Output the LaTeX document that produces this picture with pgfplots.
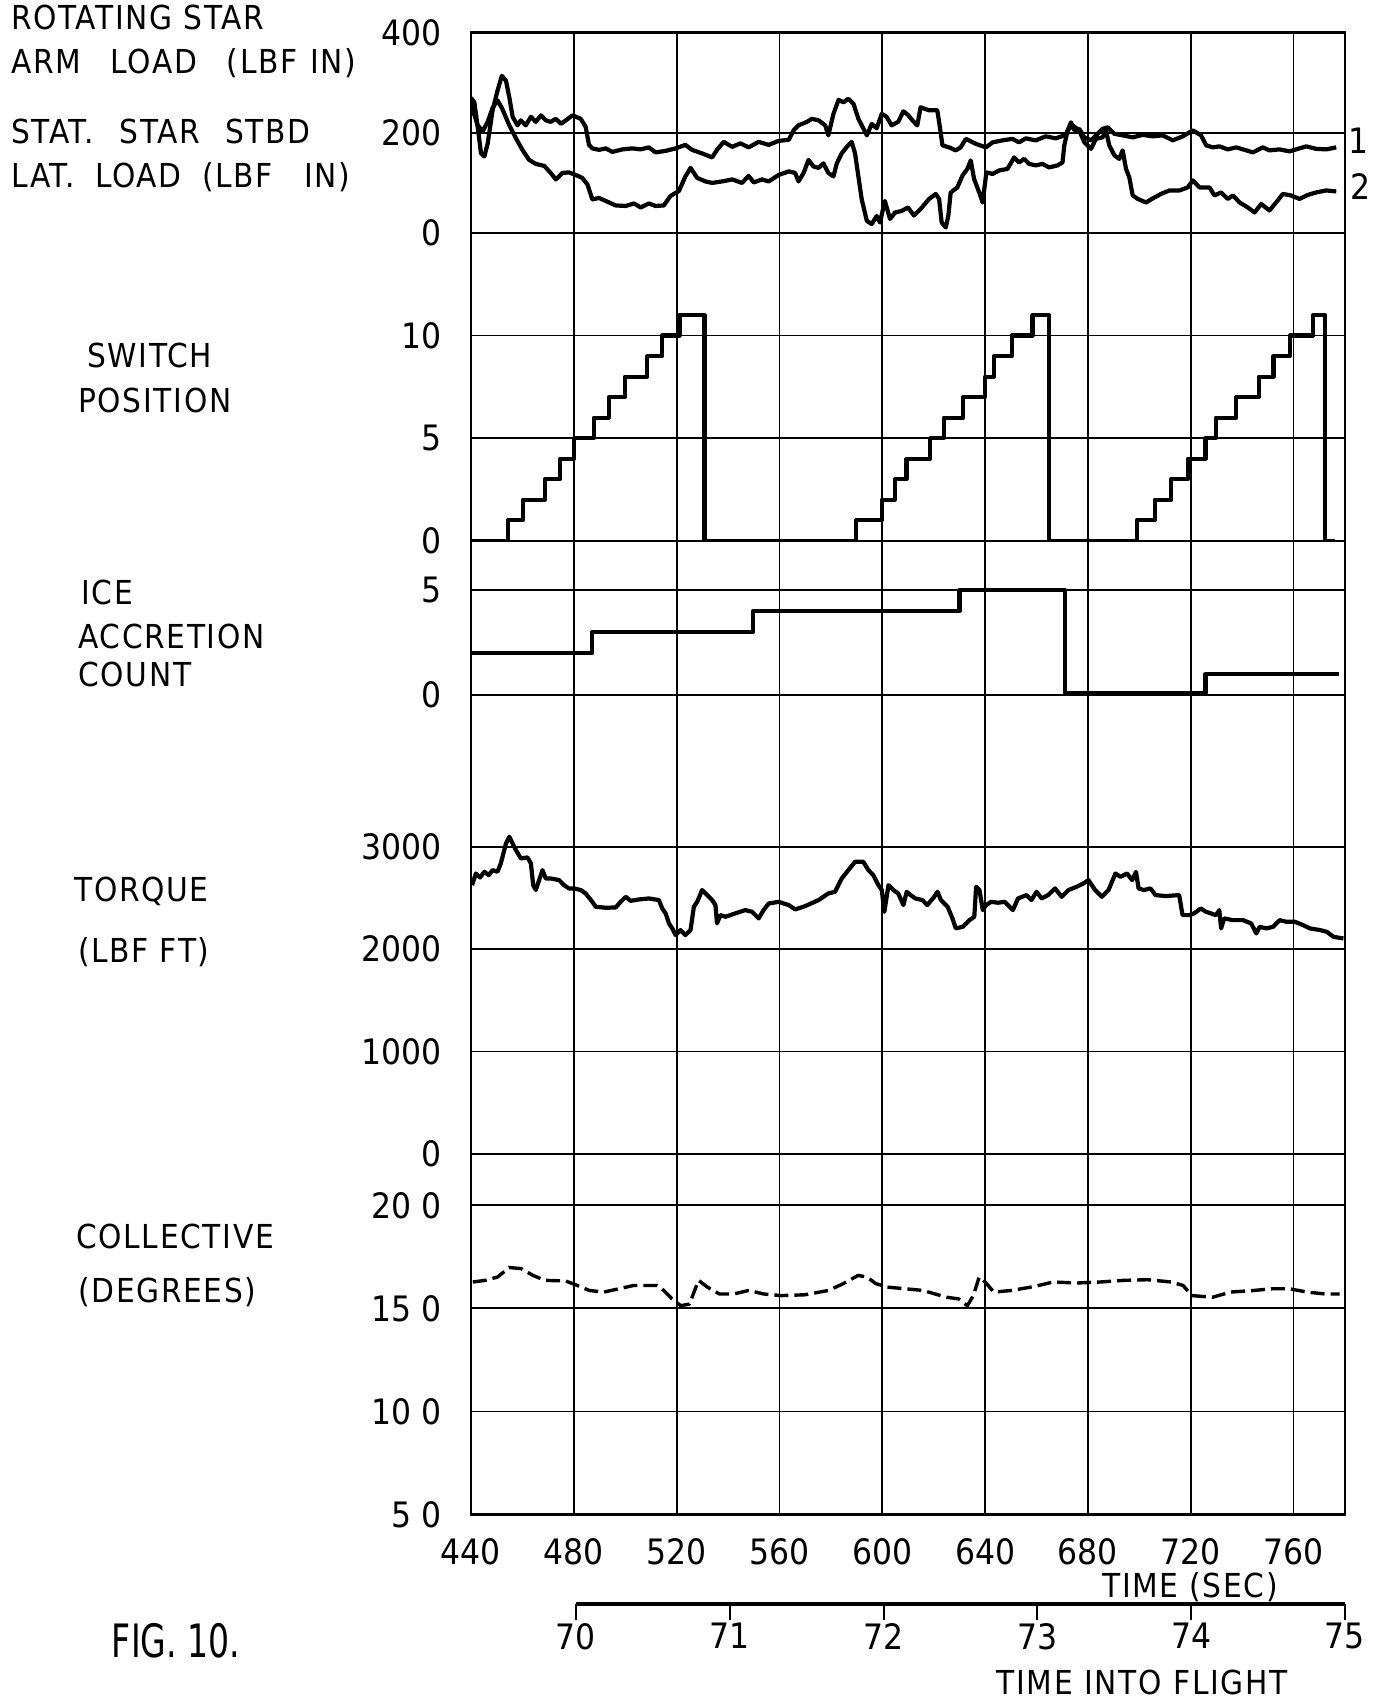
\documentclass[border=0pt]{standalone}
\usepackage{fontspec}
\setmainfont{DejaVu Sans Condensed}
\newfontfamily\labfont[LetterSpace=5]{DejaVu Sans Condensed}
\usepackage{pgfplots}
\pgfplotsset{compat=1.18}
\newcommand\lab{\labfont\fontsize{16.5}{19}\selectfont}
\newcommand\tk{\fontsize{17.5}{20}\selectfont}
\newcommand\gap{\hspace{0.35em}}
\pgfplotsset{panel/.style={scale only axis, width=437pt, xmin=440, xmax=780,
  anchor=north west, axis line style={draw=none},
  xtick={480,520,...,760}, xticklabels={}, major tick length=0pt,
  xmajorgrids, ymajorgrids, grid style={black, line width=0.9pt},
  yticklabel style={font=\tk, anchor=east, inner sep=0pt, xshift=-14.5pt}},
  trace/.style={black, line width=2.1pt, line join=round, mark=none}}
\begin{document}
\begin{tikzpicture}
\path[use as bounding box] (0pt,0pt) rectangle (689pt,-849.5pt);
% Panel 1: loads
\begin{axis}[panel, at={(235.5pt,-16.35pt)}, height=100.15pt, ymin=0, ymax=400,
  ytick={0,200,400}, yticklabels={0,200,400}]
\addplot[trace] coordinates {(440,270)(441.3,261)(442.6,212)(443.9,159)(445.2,153)(446.5,179)(448.4,245)(450.3,284)(452,314)(453.6,304)(454.9,271)(456.2,232)(458.1,215)(459.4,225)(461.3,215)(463.3,232)(465.2,222)(467.2,235)(469.1,225)(471,222)(473,228)(475,218)(476.9,225)(479.5,235)(482.7,228)(484.6,212)(485.9,176)(487.2,169)(489.8,166)(492.4,169)(495,162)(498.9,167)(502.8,169)(506,167)(509.2,171)(511.8,161)(515.7,164)(519.6,169)(523.4,176)(526,166)(529.9,159)(533.8,151)(535.7,166)(538.3,182)(541.6,172)(544.8,179)(548,171)(551.9,182)(555.8,176)(559.7,184)(563.6,186)(565.5,205)(567.4,215)(570.7,222)(572.6,228)(575.2,225)(577.8,215)(579,195)(581,238)(583,266)(584.9,261)(586.8,268)(588.8,258)(590.7,228)(592.6,209)(594,195)(595.9,218)(597.8,209)(599.8,238)(601.7,232)(603.6,215)(606.2,222)(608.2,243)(610,236)(611.7,225)(613.6,215)(614.9,251)(616.5,248)(618.2,245)(621.4,245)(622.7,201)(623.4,175)(626,171)(628.6,165)(630.5,171)(632.5,188)(636.4,178)(640.3,171)(642.9,181)(646.8,185)(650.6,188)(653.2,181)(655.8,189)(659.7,185)(663.6,193)(667.5,189)(671.4,196)(673.4,221)(674.7,205)(676.6,208)(678.6,191)(681.2,185)(683.1,195)(685.7,208)(687.7,211)(690.3,198)(693.5,195)(697.4,191)(701.3,196)(705.2,193)(709.1,195)(713,185)(716.9,193)(720.8,205)(724,195)(726,175)(728.6,171)(731.2,173)(734.4,167)(737.7,171)(741.6,165)(744.2,161)(748,171)(750.6,165)(754.5,167)(758.4,163)(762.3,169)(764.9,173)(768.8,168)(772.7,167)(776.6,171)};
\addplot[trace] coordinates {(440,262)(441.2,238)(442.5,216)(444.5,203)(446.5,222)(448.4,250)(450.3,265)(452,250)(454.9,215)(457.5,189)(460,166)(462.6,146)(465.2,138)(468.5,134)(471,120)(473,107)(475.6,120)(478.1,121)(480.7,116)(483.3,110)(485.3,97)(487.2,67)(489.8,70)(492.4,64)(496.3,55)(500.2,54)(503.4,59)(506,51)(509.2,59)(511.8,54)(515,55)(517.6,74)(520.9,84)(523.4,113)(525.4,130)(528,110)(531.2,103)(533.8,100)(537.7,103)(541.6,107)(545.4,100)(548,114)(550,101)(553.2,107)(555.8,103)(559.7,116)(563.6,123)(566.1,120)(567.4,103)(569.4,120)(571.3,146)(573.2,133)(575.2,130)(577.1,139)(579,120)(581,113)(582.3,139)(584.2,159)(586.2,172)(588.1,182)(589.4,159)(590.7,113)(592,67)(594,24)(595.9,18)(597.8,34)(599.1,21)(601,64)(603,28)(605,41)(607.5,44)(610,51)(612.3,35)(614.9,48)(618.2,68)(620.8,78)(622.1,68)(623.1,21)(624.7,11)(625.7,35)(626.6,81)(629.2,91)(631.2,115)(633.1,128)(634.4,145)(635.7,108)(637.7,81)(639,61)(640.5,121)(642.9,118)(645.5,125)(648.7,128)(651.3,151)(653.2,141)(655.2,148)(657.1,138)(659.7,135)(662.3,138)(664.9,131)(668.2,135)(670.1,141)(670.8,175)(672.1,205)(674,215)(676.6,205)(678.6,181)(681.2,168)(683.1,188)(685.7,191)(687,205)(688.3,175)(690.3,155)(692.2,148)(693.5,165)(694.8,128)(696.1,111)(697.4,75)(699.4,68)(702.6,61)(705.2,69)(708.4,78)(711.7,85)(715.6,85)(718.8,91)(720.8,105)(723.4,91)(727.3,91)(729.2,75)(731.8,81)(734.4,68)(736.4,75)(739,61)(742.2,51)(744.8,41)(747.4,58)(750.6,45)(753.2,61)(755.8,78)(759,75)(762.3,68)(765.5,76)(768.8,81)(772.7,85)(776.6,83)};
\end{axis}
% Panel 2: switch position
\begin{axis}[panel, at={(235.5pt,-116.5pt)}, height=153.85pt, ymin=0, ymax=15,
  ytick={0,5,10}, yticklabels={0,5,10}]
\addplot[trace, const plot] coordinates {(440,0)(454.3,1)(460.2,2)(468.7,3)(474.7,4)(480.2,5)(487.8,6)(493.6,7)(499.8,8)(508.5,9)(514.3,10)(521.1,11)(530.8,0)(589.9,1)(599.8,2)(604.8,3)(609.4,4)(618.6,5)(623.9,6)(631.5,7)(640,8)(643.4,9)(650.3,10)(658.4,11)(664.8,0)(699,1)(706,2)(712.4,3)(718.9,4)(725.7,5)(729.7,6)(737.7,7)(746.4,8)(752.2,9)(758.5,10)(767.6,11)(772.2,0)(776,0)};
\end{axis}
% Panel 3: ice accretion count
\begin{axis}[panel, at={(235.5pt,-270.35pt)}, height=113.925pt, ymin=-3.5, ymax=7.35,
  ytick={0,5}, yticklabels={0,5}]
\addplot[trace, const plot] coordinates {(440,2)(487.1,3)(549.7,4)(630,5)(671,0.1)(725.7,1)(777.5,1)};
\end{axis}
% Panel 4: torque
\begin{axis}[panel, at={(235.5pt,-384.25pt)}, height=192.6pt, ymin=0, ymax=3765,
  ytick={0,1000,2000,3000}, yticklabels={0,1000,2000,3000}]
\addplot[trace] coordinates {(440.4,2625)(441.9,2739)(443.5,2700)(445.2,2756)(446.9,2723)(448.4,2772)(450.3,2756)(451.6,2837)(453.6,3032)(454.9,3098)(456.2,3032)(457.5,2967)(459.4,2886)(462,2896)(463.3,2837)(464.2,2625)(465.2,2577)(466.5,2674)(467.8,2772)(469.1,2690)(471,2690)(474.3,2674)(476.2,2625)(478.1,2593)(480.1,2593)(482.7,2577)(484.6,2544)(487.2,2462)(488.5,2414)(492.4,2404)(496.3,2407)(498.2,2462)(500.2,2511)(502.1,2472)(505.3,2485)(509.2,2495)(513.1,2479)(514.4,2397)(515.7,2349)(517,2251)(518.3,2202)(519.6,2137)(521.5,2186)(523.4,2137)(525.4,2186)(526.7,2414)(528,2462)(529.9,2577)(531.9,2528)(533.8,2479)(535.1,2430)(535.7,2251)(537,2332)(539,2316)(542.8,2349)(546.7,2381)(549.3,2365)(551.9,2300)(553.8,2381)(555.8,2446)(559.7,2462)(563.6,2430)(566.1,2388)(570,2420)(575.2,2479)(579,2544)(581.6,2560)(584.2,2690)(586.8,2772)(589.4,2853)(592.6,2853)(594.6,2772)(596.5,2723)(598.5,2625)(599.8,2577)(600.8,2365)(602.4,2625)(604.3,2577)(606.2,2544)(608.2,2430)(609.5,2560)(611,2528)(612.9,2495)(615.6,2479)(617.5,2430)(620.2,2511)(621.5,2560)(622.8,2479)(625.4,2414)(627.3,2300)(628.6,2202)(631.3,2218)(633.9,2283)(635.8,2316)(636.5,2609)(637.8,2577)(639.1,2381)(640.4,2430)(642.3,2462)(645,2453)(647.6,2462)(650.8,2381)(652.8,2495)(656.1,2528)(658,2479)(660,2560)(662,2495)(664.5,2528)(667.2,2593)(669.8,2511)(672.4,2577)(675.6,2609)(678.2,2641)(680.2,2674)(682.8,2577)(685.4,2511)(688,2577)(690.7,2739)(692.7,2706)(695.2,2739)(697.2,2674)(698.7,2755)(699.7,2593)(701.7,2577)(704.3,2593)(706.3,2528)(710.2,2518)(715.5,2528)(716.8,2332)(719.4,2332)(721.3,2349)(723.9,2397)(725.9,2365)(729.8,2332)(731.1,2381)(731.8,2202)(733,2300)(736.3,2283)(740.3,2283)(743.5,2251)(745.5,2153)(746.8,2218)(749.4,2202)(752,2218)(754.6,2283)(757.2,2267)(760.5,2267)(763.7,2234)(766.4,2202)(770.3,2186)(772.9,2169)(775.5,2120)(779.4,2104)};
\end{axis}
% Panel 5: collective
\begin{axis}[panel, at={(235.5pt,-576.85pt)}, height=180.45pt, ymin=5, ymax=22.5,
  ytick={5,10,15,20}, yticklabels={5 0,10 0,15 0,20 0},
  xtick={440,480,...,760}, xticklabels={440,480,520,560,600,640,680,720,760},
  xticklabel style={font=\tk, inner sep=0pt, anchor=north, yshift=-11.75pt}]
\addplot[trace, line width=1.7pt, dash pattern=on 7pt off 3pt] coordinates {(440.7,16.28)(445.7,16.36)(450.3,16.52)(454.9,16.98)(459.5,16.93)(464.1,16.6)(468.7,16.36)(476.8,16.33)(481.4,16.11)(486,15.87)(491.7,15.79)(497.5,15.95)(503.2,16.11)(512.4,16.11)(515,15.87)(518.2,15.46)(521.6,15.13)(525,15.21)(528.5,16.36)(532,16.03)(536.6,15.7)(542.3,15.7)(548,15.87)(553.8,15.7)(560.7,15.62)(569.9,15.66)(579.1,15.87)(584.8,16.2)(590.6,16.6)(594,16.52)(597.5,16.2)(602,16.03)(609,15.95)(615.9,15.87)(620.5,15.7)(625,15.54)(629.7,15.46)(633.1,15.13)(635.4,15.62)(637.7,16.52)(640,16.28)(643.4,15.79)(650.3,15.87)(659.5,16.07)(666.4,16.28)(675.6,16.23)(684.8,16.28)(694,16.36)(703.2,16.39)(712.4,16.28)(717,16.11)(720.5,15.62)(728.5,15.54)(735.4,15.79)(744.6,15.87)(751.5,15.95)(758.4,15.95)(765.3,15.79)(772.2,15.7)(777.9,15.7)};
\end{axis}
% Outer frame
\begin{axis}[scale only axis, width=437pt, height=740.95pt, at={(235.5pt,-16.35pt)},
  anchor=north west, xmin=0, xmax=1, ymin=0, ymax=1, xtick=\empty, ytick=\empty,
  axis line style={line width=1.3pt, black}]
\addplot[draw=none] coordinates {(0,0)};
\end{axis}
% Time into flight axis: short tick marks below the line
\begin{axis}[scale only axis, width=384.5pt, height=5pt, at={(288pt,-802pt)},
  anchor=north west, xmin=70, xmax=75, ymin=0, ymax=1, clip=false,
  hide axis]
\addplot[ycomb, black, line width=1pt, mark=none] coordinates {(71,1)(72,1)(73,1)(74,1)};
\end{axis}
% Time into flight axis: line and labels
\begin{axis}[scale only axis, width=384.5pt, height=10pt, at={(288pt,-802pt)},
  anchor=south west, xmin=70, xmax=75, ymin=0, ymax=1, hide y axis,
  axis x line*=bottom, x axis line style={line width=2.2pt, -},
  xtick={70,...,75}, xticklabels={70,71,72,73,74,75},
  xticklabel style={font=\tk, inner sep=0pt, yshift=-1.5pt},
  major tick length=8pt, tick align=outside, tick style={black, line width=1pt}]
\addplot[draw=none] coordinates {(70,0)};
\end{axis}
% Labels
\node[anchor=base west, inner sep=0pt] at (5.5pt,-14.65pt) {\lab ROTATING\gap STAR};
\node[anchor=base west, inner sep=0pt] at (5.5pt,-36.5pt) {\lab ARM\hspace{0.9em}LOAD\hspace{0.9em}(LBF\hspace{0.4em}IN)};
\node[anchor=base west, inner sep=0pt] at (5.5pt,-71.85pt) {\lab STAT.\hspace{0.78em}STAR\hspace{0.78em}STBD};
\node[anchor=base west, inner sep=0pt] at (5.5pt,-93.5pt) {\lab LAT.\hspace{0.62em}LOAD\hspace{0.62em}(LBF\hspace{0.95em}IN)};
\node[anchor=base west, inner sep=0pt] at (43.5pt,-183.5pt) {\lab SWITCH};
\node[anchor=base west, inner sep=0pt] at (39pt,-206pt) {\lab POSITION};
\node[anchor=base west, inner sep=0pt] at (40.5pt,-302.25pt) {\lab ICE};
\node[anchor=base west, inner sep=0pt] at (39pt,-324pt) {\lab ACCRETION};
\node[anchor=base west, inner sep=0pt] at (39pt,-343pt) {\lab COUNT};
\node[anchor=base west, inner sep=0pt] at (37pt,-450.5pt) {\lab TORQUE};
\node[anchor=base west, inner sep=0pt] at (39pt,-481pt) {\lab (LBF FT)};
\node[anchor=base west, inner sep=0pt] at (38pt,-624pt) {\lab COLLECTIVE};
\node[anchor=base west, inner sep=0pt] at (39pt,-651pt) {\lab (DEGREES)};
\node[anchor=west, inner sep=0pt] at (674pt,-70.5pt) {\tk 1};
\node[anchor=west, inner sep=0pt] at (675pt,-93.5pt) {\tk 2};
\node[inner sep=0pt] at (595pt,-793.5pt) {\lab TIME (SEC)};
\node[inner sep=0pt] at (571pt,-841pt) {\lab TIME\gap INTO\gap FLIGHT};
\node[inner sep=0pt, xscale=0.8] at (88pt,-820.5pt) {\fontsize{23}{26}\selectfont FIG. 10.};
\end{tikzpicture}
\end{document}
